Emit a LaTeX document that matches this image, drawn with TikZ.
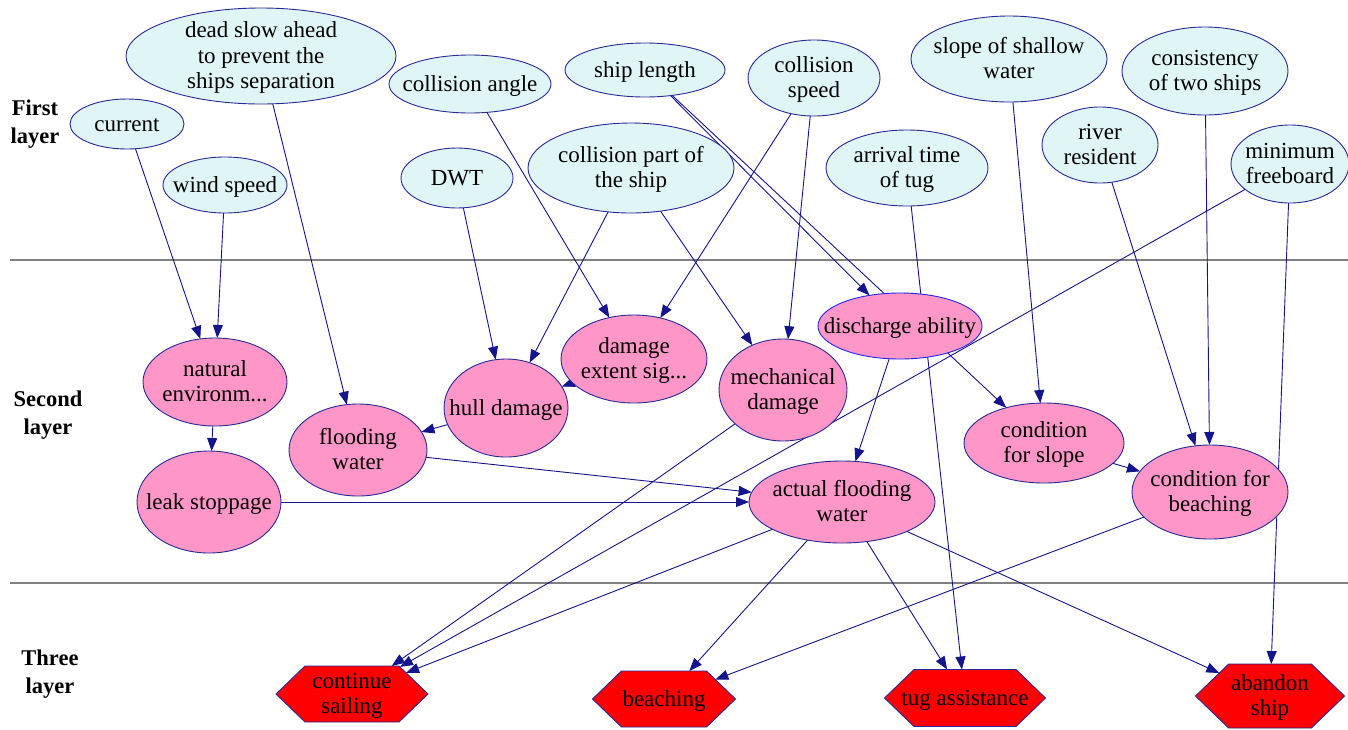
\documentclass[tikz,border=0pt]{standalone}
\usepackage{fontspec}
\setmainfont{Liberation Serif}
\usetikzlibrary{shapes.geometric,shapes.symbols,arrows.meta}
\pgfdeclarelayer{edges}
\pgfsetlayers{edges,main}
\definecolor{navy}{RGB}{20,20,140}
\definecolor{nodeline}{RGB}{40,40,150}
\definecolor{brightline}{RGB}{35,35,235}
\definecolor{cyanfill}{RGB}{224,245,245}
\definecolor{pinkfill}{RGB}{255,150,200}
\definecolor{hexred}{RGB}{255,0,0}
\definecolor{rulegray}{RGB}{128,128,128}
% centred label that does not enlarge its node
\newcommand\tx[1]{\smash{\raisebox{-8.3pt}{\makebox[0pt]{\begin{tabular}{@{}c@{}}#1\end{tabular}}}}}

\begin{document}
\begin{tikzpicture}[x=1pt,y=-1pt,
  base/.style={inner sep=0pt, outer sep=0pt, font=\fontsize{23}{25.5}\selectfont, line width=0.9pt, draw=nodeline},
  first/.style={base, ellipse, fill=cyanfill},
  second/.style={base, ellipse, fill=pinkfill},
  third/.style={base, signal, signal to=west and east, signal pointer angle=88, fill=hexred},
  layername/.style={font=\fontsize{22.5}{28}\selectfont\bfseries, align=center, inner sep=0pt},
  link/.style={draw=navy, line width=0.9pt, -{Triangle[length=13pt,width=10pt]}},
  rule/.style={draw=rulegray, line width=1.5pt}
]
\useasboundingbox (0,0) rectangle (1348,729);

% layer captions
\node[layername] (l1) at (35,124) {First\\layer};
\node[layername] (l2) at (48,415) {Second\\layer};
\node[layername] (l3) at (50,674) {Three\\layer};

% first layer
\node[first, minimum width=114pt, minimum height=50pt] (cur) at (127,124) {\tx{current}};
\node[first, minimum width=124pt, minimum height=56pt] (wind) at (225,185) {\tx{wind speed}};
\node[first, minimum width=270pt, minimum height=96pt] (dsa) at (261,56) {\tx{dead slow ahead\\to prevent the\\ships separation}};
\node[first, minimum width=162pt, minimum height=58pt] (cang) at (470,84) {\tx{collision angle}};
\node[first, minimum width=160pt, minimum height=54pt] (slen) at (645,70) {\tx{ship length}};
\node[first, minimum width=132pt, minimum height=76pt] (cspd) at (814,78) {\tx{collision\\speed}};
\node[first, minimum width=112pt, minimum height=60pt] (dwt) at (457,178) {\tx{DWT}};
\node[first, minimum width=206pt, minimum height=90pt] (cpart) at (631,168) {\tx{collision part of\\the ship}};
\node[first, minimum width=162pt, minimum height=76pt] (arr) at (907,168) {\tx{arrival time\\of tug}};
\node[first, minimum width=196pt, minimum height=86pt] (slope) at (1009,59) {\tx{slope of shallow\\water}};
\node[first, minimum width=166pt, minimum height=88pt] (cons) at (1205,71) {\tx{consistency\\of two ships}};
\node[first, minimum width=116pt, minimum height=76pt] (river) at (1100,145) {\tx{river\\resident}};
\node[first, minimum width=118pt, minimum height=78pt] (minfb) at (1290,164) {\tx{minimum\\freeboard}};

% second layer
\node[second, minimum width=144pt, minimum height=88pt] (nat) at (215,382) {\tx{natural\\environm...}};
\node[second, minimum width=144pt, minimum height=102pt] (leak) at (209,502) {\tx{leak stoppage}};
\node[second, minimum width=138pt, minimum height=92pt] (flood) at (358,450) {\tx{flooding\\water}};
\node[second, minimum width=124pt, minimum height=98pt] (hull) at (506,408) {\tx{hull damage}};
\node[second, minimum width=146pt, minimum height=88pt] (dext) at (634,359) {\tx{damage\\extent sig...}};
\node[second, minimum width=128pt, minimum height=102pt] (mech) at (783,390) {\tx{mechanical\\damage}};
\node[second, draw=brightline, minimum width=164pt, minimum height=66pt] (dis) at (900,326) {\tx{discharge ability}};
\node[second, minimum width=186pt, minimum height=82pt] (afw) at (842,502) {\tx{actual flooding\\water}};
\node[second, minimum width=160pt, minimum height=80pt] (cslope) at (1044,443) {\tx{condition\\for slope}};
\node[second, minimum width=156pt, minimum height=94pt] (cbeach) at (1210,492) {\tx{condition for\\beaching}};

% third layer
\node[third, minimum width=152pt, minimum height=56pt] (cs) at (352,694) {\tx{continue\\sailing}};
\node[third, minimum width=143pt, minimum height=56pt] (beach) at (664,699) {\tx{beaching}};
\node[third, minimum width=161pt, minimum height=57pt] (tug) at (965,698) {\tx{tug assistance}};
\node[third, minimum width=149pt, minimum height=64pt] (aband) at (1270,696) {\tx{abandon\\ship}};

\begin{pgfonlayer}{edges}
  % layer separators
  \draw[rule] (10,260) -- (1348,260);
  \draw[rule] (10,583) -- (1348,583);
  % dependencies
  \draw[link] (cur) -- (nat);
  \draw[link] (wind) -- (nat);
  \draw[link] (dsa) -- (flood);
  \draw[link] (nat) -- (leak);
  \draw[link] (dwt) -- (hull);
  \draw[link] (cpart) -- (hull);
  \draw[link] (cang) -- (dext);
  \draw[link] (cspd) -- (dext);
  \draw[link] (cpart) -- (mech);
  \draw[link] (cspd) -- (mech);
  \draw[link] (slen) -- (dis);
  \draw[link] (slen) -- (cslope);
  \draw[link] (slope) -- (cslope);
  \draw[link] (river) -- (cbeach);
  \draw[link] (cons) -- (cbeach);
  \draw[link] (cslope) -- (cbeach);
  \draw[link] (minfb) -- (aband);
  \draw[link] (minfb) -- (cs);
  \draw[link] (flood) -- (afw);
  \draw[link] (leak) -- (afw);
  \draw[link] (hull) -- (flood);
  \draw[link] (dext) -- (hull);
  \draw[link] (dis) -- (afw);
  \draw[link] (mech) -- (cs);
  \draw[link] (afw) -- (cs);
  \draw[link] (afw) -- (beach);
  \draw[link] (afw) -- (tug);
  \draw[link] (afw) -- (aband);
  \draw[link] (cbeach) -- (beach);
  \draw[link] (arr) -- (tug);
\end{pgfonlayer}
\end{tikzpicture}
\end{document}
